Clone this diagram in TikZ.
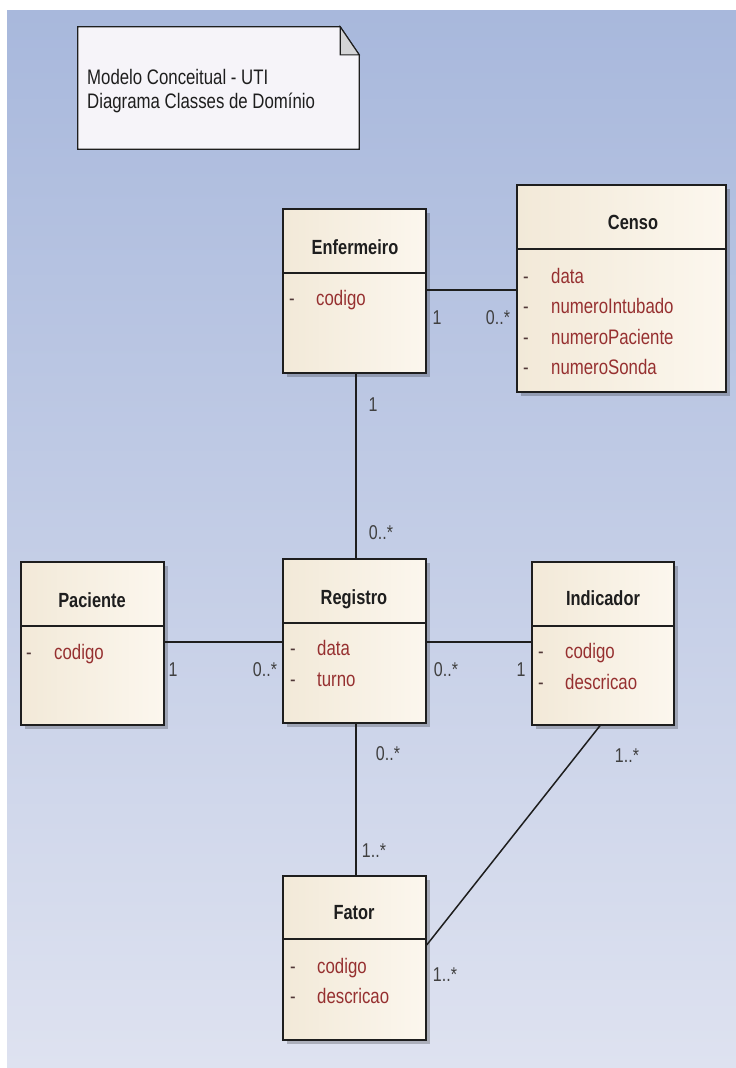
\documentclass[tikz,border=0pt]{standalone}
\usepackage{fontspec}
\setmainfont{Liberation Sans}[FakeStretch=0.8]
\usetikzlibrary{shadows}

\definecolor{bgtop}{RGB}{168,184,220}
\definecolor{bgbot}{RGB}{222,226,240}
\definecolor{boxL}{RGB}{242,233,216}
\definecolor{boxR}{RGB}{252,247,238}
\definecolor{attrred}{RGB}{150,48,48}
\definecolor{dashcol}{RGB}{80,55,55}
\definecolor{inkdark}{RGB}{30,30,30}
\definecolor{notefill}{RGB}{246,244,249}
\definecolor{foldgray}{RGB}{212,212,214}

\tikzset{
  classbox/.style={draw=inkdark, line width=1.4pt, left color=boxL, right color=boxR,
    drop shadow={shadow xshift=4pt, shadow yshift=-4pt, opacity=0.22, fill=black},
    inner sep=0pt},
  divline/.style={draw=inkdark, line width=1.4pt},
  assoc/.style={draw=inkdark, line width=1.5pt},
  ctitle/.style={inner sep=0pt, text height=15pt, text depth=0pt, text=inkdark,
    font=\fontsize{20.5}{24}\selectfont\bfseries},
  attr/.style={anchor=west, inner sep=0pt, text height=15pt, text depth=0pt, text=attrred,
    font=\fontsize{21}{24}\selectfont},
  adash/.style={inner sep=0pt, text height=15pt, text depth=0pt, text=dashcol,
    font=\fontsize{21}{24}\selectfont},
  mult/.style={inner sep=0pt, text height=15pt, text depth=0pt, text=inkdark!85,
    font=\fontsize{20}{24}\selectfont},
  notetext/.style={anchor=west, inner sep=0pt, text height=15pt, text depth=0pt, text=inkdark,
    font=\fontsize{21}{24}\selectfont},
}

\begin{document}
\begin{tikzpicture}[x=1pt, y=-1pt]
\useasboundingbox (0,0) rectangle (736,1068);
% backdrop
\shade[top color=bgtop, bottom color=bgbot] (7,10) rectangle (736,1068);

% ---- note with folded corner ----
\node[minimum width=281pt, minimum height=122pt, inner sep=0pt] (note) at (218.5,88) {};
\draw[line width=1.3pt, draw=inkdark, fill=notefill]
  (note.north west) -- ([xshift=-19pt]note.north east) -- ([yshift=-28pt]note.north east)
  -- (note.south east) -- (note.south west) -- cycle;
\draw[line width=1.1pt, draw=inkdark, fill=foldgray]
  ([xshift=-19pt]note.north east) -- ([xshift=-19pt,yshift=-28pt]note.north east)
  -- ([yshift=-28pt]note.north east) -- cycle;
\node[notetext] (noteL1) at (87,77) {Modelo Conceitual - UTI};
\node[notetext] (noteL2) at (87,101) {Diagrama Classes de Domínio};

% ---- class boxes ----
\node[classbox, minimum width=143pt, minimum height=164pt] (enf) at (354.5,291) {};
\node[classbox, minimum width=209pt, minimum height=207pt] (cen) at (621.5,288.5) {};
\node[classbox, minimum width=143pt, minimum height=163pt] (pac) at (92.5,643.5) {};
\node[classbox, minimum width=143pt, minimum height=164pt] (reg) at (354.5,641) {};
\node[classbox, minimum width=142pt, minimum height=163pt] (ind) at (603,643.5) {};
\node[classbox, minimum width=143pt, minimum height=164pt] (fat) at (354.5,958) {};

% compartment dividers
\draw[divline] (enf.west |- 0,273) -- (enf.east |- 0,273);
\draw[divline] (cen.west |- 0,249) -- (cen.east |- 0,249);
\draw[divline] (pac.west |- 0,626) -- (pac.east |- 0,626);
\draw[divline] (reg.west |- 0,623) -- (reg.east |- 0,623);
\draw[divline] (ind.west |- 0,626) -- (ind.east |- 0,626);
\draw[divline] (fat.west |- 0,939) -- (fat.east |- 0,939);

% ---- titles ----
\node[ctitle] (enfT) at (355,247) {Enfermeiro};
\node[ctitle] (cenT) at (633,222) {Censo};
\node[ctitle] (pacT) at (92,600) {Paciente};
\node[ctitle] (regT) at (354,597) {Registro};
\node[ctitle] (indT) at (603,598) {Indicador};
\node[ctitle] (fatT) at (354,912) {Fator};

% ---- attributes ----
\node[adash] (enfD1) at (292,298) {-};
\node[attr]  (enfA1) at (316,298) {codigo};

\node[adash] (cenD1) at (526,276) {-};
\node[attr]  (cenA1) at (551,276) {data};
\node[adash] (cenD2) at (526,306) {-};
\node[attr]  (cenA2) at (551,306) {numeroIntubado};
\node[adash] (cenD3) at (526,337) {-};
\node[attr]  (cenA3) at (551,337) {numeroPaciente};
\node[adash] (cenD4) at (526,367) {-};
\node[attr]  (cenA4) at (551,367) {numeroSonda};

\node[adash] (pacD1) at (29,652) {-};
\node[attr]  (pacA1) at (54,652) {codigo};

\node[adash] (regD1) at (293,648) {-};
\node[attr]  (regA1) at (317,648) {data};
\node[adash] (regD2) at (293,679) {-};
\node[attr]  (regA2) at (317,679) {turno};

\node[adash] (indD1) at (541,651) {-};
\node[attr]  (indA1) at (565,651) {codigo};
\node[adash] (indD2) at (541,682) {-};
\node[attr]  (indA2) at (565,682) {descricao};

\node[adash] (fatD1) at (293,966) {-};
\node[attr]  (fatA1) at (317,966) {codigo};
\node[adash] (fatD2) at (293,996) {-};
\node[attr]  (fatA2) at (317,996) {descricao};

% ---- associations ----
\draw[assoc] (enf.east |- 0,290) -- (cen.west |- 0,290);
\draw[assoc] (enf.south -| 356,0) -- (reg.north -| 356,0);
\draw[assoc] (pac.east |- 0,642) -- (reg.west |- 0,642);
\draw[assoc] (reg.east |- 0,642) -- (ind.west |- 0,642);
\draw[assoc] (reg.south -| 356,0) -- (fat.north -| 356,0);
\draw[assoc] (fat.east |- 0,945) -- (ind.south -| 600,0);

% ---- multiplicities ----
\node[mult] (mEC1) at (437,317) {1};
\node[mult] (mEC2) at (498,317) {0..*};
\node[mult] (mER1) at (373,404) {1};
\node[mult] (mER2) at (381,532) {0..*};
\node[mult] (mPR1) at (173,669) {1};
\node[mult] (mPR2) at (265,669) {0..*};
\node[mult] (mRI1) at (446,669) {0..*};
\node[mult] (mRI2) at (521,669) {1};
\node[mult] (mRF1) at (388,753) {0..*};
\node[mult] (mRF2) at (374,850) {1..*};
\node[mult] (mFI1) at (445,974) {1..*};
\node[mult] (mFI2) at (627,755) {1..*};
\end{tikzpicture}
\end{document}
